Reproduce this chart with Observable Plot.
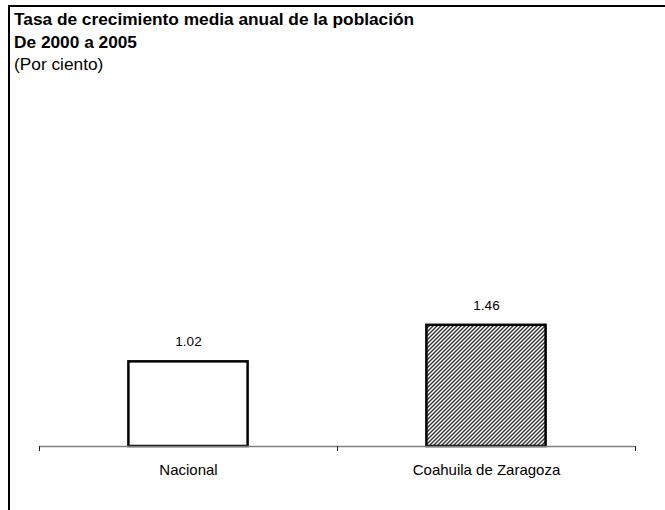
<!DOCTYPE html>
<html>
<head>
<meta charset="utf-8">
<script src="https://cdn.jsdelivr.net/npm/d3@7"></script>
<script src="https://cdn.jsdelivr.net/npm/@observablehq/plot@0.6"></script>
<style>
  html, body { margin: 0; padding: 0; background: #fff; overflow: hidden; }
  #wrap { position: relative; width: 665px; height: 510px; overflow: hidden; font-family: "Liberation Sans", Arial, sans-serif; }
  #frame { position: absolute; left: 8px; top: 5px; width: 700px; height: 600px; border-left: 2px solid #000; border-top: 2px solid #000; pointer-events: none; }
  #title { height: 75px; box-sizing: border-box; padding: 9px 0 0 14px; color: #000; }
  #title div { font-size: 16px; line-height: 22.5px; transform: scaleX(1.08); transform-origin: left center; white-space: nowrap; }
  #title .b { font-weight: bold; }
  #chart svg { display: block; }
</style>
</head>
<body>
<div id="wrap">
  <div id="title">
    <div class="b">Tasa de crecimiento media anual de la población</div>
    <div class="b">De 2000 a 2005</div>
    <div>(Por ciento)</div>
  </div>
  <div id="chart"></div>
  <div id="frame"></div>
</div>
<script>
const categories = ["Nacional", "Coahuila de Zaragoza"];
const values = [1.02, 1.46];
const labels = ["1.02", "1.46"];

const data = categories.map((c, i) => ({i, category: c, value: values[i], label: labels[i]}));

const svg = Plot.plot({
  width: 665,
  height: 435,
  marginLeft: 39,
  marginRight: 30,
  marginTop: 39,
  marginBottom: 64,
  style: {fontFamily: "'Liberation Sans', Arial, sans-serif", fontSize: "13px", background: "transparent"},
  x: {type: "linear", domain: [0, categories.length], axis: null},
  y: {domain: [0, 4], axis: null},
  color: {type: "identity"},
  marks: [
    Plot.rectY(data, {
      x1: d => d.i + 0.3,
      x2: d => d.i + 0.7,
      y: "value",
      fill: d => d.i === 1 ? "url(#hatch)" : "white",
      stroke: "black",
      strokeWidth: 2.5
    }),
    Plot.ruleY([0], {x1: 0, x2: categories.length, stroke: "#808080", strokeWidth: 1.5}),
    Plot.axisX({ticks: d3.range(categories.length + 1), tickSize: 5, tickFormat: () => "", stroke: "#222", strokeWidth: 1}),
    Plot.text(data, {x: d => d.i + 0.5, y: "value", text: "label", dy: -20, fill: "black", fontSize: 13.5}),
    Plot.text(data, {x: d => d.i + 0.5, y: 0, text: "category", dy: 24, fill: "black", fontSize: 15})
  ]
});

const defs = d3.select(svg).insert("defs", ":first-child");
const pat = defs.append("pattern")
  .attr("id", "hatch")
  .attr("patternUnits", "userSpaceOnUse")
  .attr("width", 4)
  .attr("height", 4);
pat.append("rect").attr("width", 4).attr("height", 4).attr("fill", "white");
pat.append("path")
  .attr("d", "M-1,1 l2,-2 M0,4 l4,-4 M3,5 l2,-2")
  .attr("stroke", "#333")
  .attr("stroke-width", 1.4);

document.getElementById("chart").appendChild(svg);
</script>
</body>
</html>
